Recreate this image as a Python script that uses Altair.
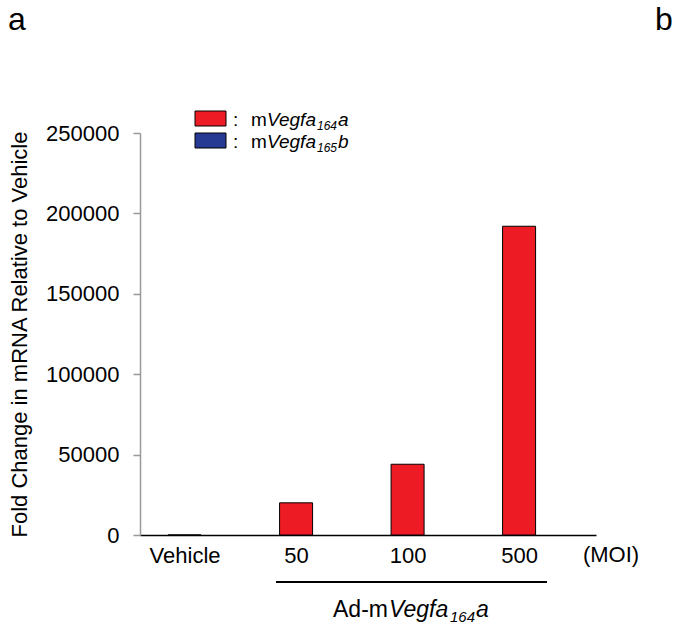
import altair as alt
import pandas as pd

# Conditions on the x axis and the measured fold change of mVegfa164a
conditions = ["Vehicle", "50", "100", "500"]
fold_change_164a = [1, 20000, 44000, 192000]

RED = "#ED1C24"
BLUE = "#263A93"
FONT = "Liberation Sans"

W, H = 456, 402

df = pd.DataFrame({
    "idx": list(range(len(conditions))),
    "condition": conditions,
    "fold": fold_change_164a,
})
# single-row source for annotation marks so each is drawn once
one = pd.DataFrame({"k": [0]})

label_expr = "[" + ",".join(f"'{c}'" for c in conditions) + "][datum.value]"

bars = alt.Chart(df).mark_bar(size=33, color=RED, stroke="black", strokeWidth=1).encode(
    x=alt.X(
        "idx:Q",
        scale=alt.Scale(domain=[-0.355, 3.645], nice=False, zero=False),
        axis=alt.Axis(
            values=list(range(len(conditions))),
            labelExpr=label_expr,
            ticks=False,
            grid=False,
            domainColor="black",
            domainWidth=1.5,
            labelFontSize=22,
            labelFont=FONT,
            labelFontWeight="normal",
            labelColor="black",
            labelPadding=10,
            labelFlush=False,
            title=None,
        ),
    ),
    y=alt.Y(
        "fold:Q",
        scale=alt.Scale(domain=[0, 250000], nice=False),
        axis=alt.Axis(
            values=[0, 50000, 100000, 150000, 200000, 250000],
            format="d",
            grid=False,
            domainColor="#999999",
            domainWidth=1.5,
            tickColor="#999999",
            tickWidth=1.5,
            tickSize=7,
            labelPadding=14,
            labelFontSize=22,
            labelFont=FONT,
            labelColor="black",
            title="Fold Change in mRNA Relative to Vehicle",
            titleFontSize=22,
            titleFont=FONT,
            titleFontWeight="normal",
            titleColor="black",
            titlePadding=14,
        ),
    ),
)


def txt(s, x, y, size=22, italic=False, align="left", baseline="alphabetic"):
    return alt.Chart(one).mark_text(
        text=s,
        font=FONT,
        fontSize=size,
        fontStyle="italic" if italic else "normal",
        fontWeight="normal",
        align=align,
        baseline=baseline,
        color="black",
    ).encode(x=alt.value(x), y=alt.value(y))


# Unit label to the right of the axis labels
moi = txt("(MOI)", 471, 412, baseline="top", align="center")

# Bracket under the adenovirus-treated groups and its label
bracket = alt.Chart(one).mark_rule(color="black", strokeWidth=2).encode(
    x=alt.value(136), x2=alt.value(407), y=alt.value(449)
)
bx = 193
under = [
    txt("Ad-m", bx, 484, 23),
    txt("Vegfa", bx + 56, 484, 23, italic=True),
    txt("164", bx + 117, 489, 15, italic=True),
    txt("a", bx + 143, 484, 23, italic=True),
]

# Legend swatches and labels
swatch_red = alt.Chart(one).mark_rect(color=RED, stroke="black", strokeWidth=1).encode(
    x=alt.value(55), x2=alt.value(86), y=alt.value(-22), y2=alt.value(-7)
)
swatch_blue = alt.Chart(one).mark_rect(color=BLUE, stroke="black", strokeWidth=1).encode(
    x=alt.value(55), x2=alt.value(86), y=alt.value(0), y2=alt.value(15)
)
legend_text = []
for base_y, sub, last in [(-7, "164", "a"), (15, "165", "b")]:
    legend_text += [
        txt(":", 93, base_y, 19),
        txt("m", 111, base_y, 19),
        txt("Vegfa", 127, base_y, 19, italic=True),
        txt(sub, 177, base_y + 4, 12, italic=True),
        txt(last, 198, base_y, 19, italic=True),
    ]

# Panel letters
panel_a = txt("a", -132, -103, 32)
panel_b = txt("b", 515, -103, 32)

chart = alt.layer(
    bars, moi, bracket, *under, swatch_red, swatch_blue, *legend_text, panel_a, panel_b
).properties(
    width=W,
    height=H,
    background="white",
    padding={"left": 140, "top": 133, "right": 81, "bottom": 90},
    autosize=alt.AutoSizeParams(type="none"),
).configure_view(strokeWidth=0, strokeOpacity=0)

chart.save("out.html", embed_options={"renderer": "svg", "actions": False})
